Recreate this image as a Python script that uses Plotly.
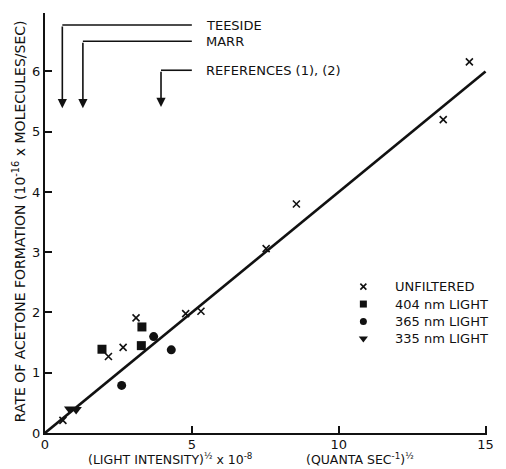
import plotly.graph_objects as go

# Unfiltered light
unf_x = [0.61, 2.16, 2.66, 3.10, 4.79, 5.31, 7.53, 8.56, 13.56, 14.45]
unf_y = [0.21, 1.27, 1.42, 1.91, 1.98, 2.02, 3.06, 3.80, 5.20, 6.16]
# 404 nm light
l404_x = [1.94, 3.28, 3.30]
l404_y = [1.39, 1.45, 1.76]
# 365 nm light
l365_x = [2.61, 3.70, 4.30]
l365_y = [0.79, 1.60, 1.38]
# 335 nm light
l335_x = [0.84, 1.06]
l335_y = [0.40, 0.39]

# fitted straight line through the origin
fit_x = [0, 15]
fit_y = [0, 6.0]

# literature intensities marked with arrows
ref_labels = ["TEESIDE", "MARR", "REFERENCES (1), (2)"]
ref_x = [0.59, 1.29, 3.95]
ref_top = [6.77, 6.50, 6.02]
ref_tip = [5.39, 5.39, 5.41]
ref_label_x = 5.0

legend_labels = ["UNFILTERED", "404 nm LIGHT", "365 nm LIGHT", "335 nm LIGHT"]
legend_y = [2.43, 2.14, 1.85, 1.57]
legend_sym_x = 10.84
legend_txt_x = 11.85

FONT = "DejaVu Sans"
INK = "#111111"

fig = go.Figure()

fig.add_trace(go.Scatter(x=fit_x, y=fit_y, mode="lines",
                         line=dict(color=INK, width=2.6), hoverinfo="skip"))

series = [
    (unf_x, unf_y, "x-thin-open", 7, dict(color=INK, width=1.6)),
    (l404_x, l404_y, "square", 9, dict(width=0)),
    (l365_x, l365_y, "circle", 9, dict(width=0)),
    (l335_x, l335_y, "triangle-down", 10, dict(width=0)),
]
for (xs, ys, sym, size, mline), lab, ly in zip(series, legend_labels, legend_y):
    fig.add_trace(go.Scatter(x=xs, y=ys, mode="markers", name=lab,
                             marker=dict(symbol=sym, size=size, color=INK, line=mline)))
    # legend key
    fig.add_trace(go.Scatter(x=[legend_sym_x], y=[ly], mode="markers",
                             marker=dict(symbol=sym, size=size - 2 if sym != "x-thin-open" else 6,
                                         color=INK, line=mline), hoverinfo="skip"))
    fig.add_annotation(x=legend_txt_x, y=ly, xref="x", yref="y", text=lab,
                       showarrow=False, xanchor="left", yanchor="middle",
                       font=dict(family=FONT, size=13, color=INK))

for lab, rx, top, tip in zip(ref_labels, ref_x, ref_top, ref_tip):
    fig.add_shape(type="line", x0=rx, x1=ref_label_x, y0=top, y1=top, xref="x", yref="y",
                  line=dict(color=INK, width=1.6))
    fig.add_annotation(x=rx, y=tip, ax=rx, ay=top, xref="x", yref="y", axref="x", ayref="y",
                       text="", showarrow=True, arrowhead=2, arrowsize=1.15, arrowwidth=1.6,
                       arrowcolor=INK)
    fig.add_annotation(x=ref_label_x + 0.42, y=top, xref="x", yref="y", text=lab,
                       showarrow=False, xanchor="left", yanchor="middle",
                       font=dict(family=FONT, size=13, color=INK))

# axis titles
fig.add_annotation(x=0.282, y=-0.083, xref="paper", yref="paper",
                   text="(LIGHT INTENSITY)<sup>½</sup> x 10<sup>-8</sup>",
                   showarrow=False, xanchor="center", yanchor="bottom", borderpad=0,
                   font=dict(family=FONT, size=12.5, color=INK))
fig.add_annotation(x=0.712, y=-0.083, xref="paper", yref="paper",
                   text="(QUANTA SEC<sup>-1</sup>)<sup>½</sup>",
                   showarrow=False, xanchor="center", yanchor="bottom", borderpad=0,
                   font=dict(family=FONT, size=12.5, color=INK))
fig.add_annotation(x=-0.058, y=0.505, xref="paper", yref="paper", textangle=-90,
                   text="RATE OF ACETONE FORMATION (10<sup>-16</sup> x MOLECULES/SEC)",
                   showarrow=False, xanchor="center", yanchor="middle",
                   font=dict(family=FONT, size=14, color=INK))

fig.update_layout(
    width=506, height=469,
    margin=dict(l=45, r=13, t=13, b=36),
    paper_bgcolor="white", plot_bgcolor="white",
    showlegend=False,
    font=dict(family=FONT, size=13, color=INK),
    xaxis=dict(range=[0, 15.05], tickvals=[0, 5, 10, 15], showgrid=False, zeroline=False,
               showline=True, linecolor=INK, linewidth=2, ticks="inside", ticklen=7,
               tickwidth=1.6, tickcolor=INK, tickfont=dict(size=13), ticklabelstandoff=-2),
    yaxis=dict(range=[0, 6.97], tickvals=[0, 1, 2, 3, 4, 5, 6], showgrid=False, zeroline=False,
               showline=True, linecolor=INK, linewidth=2, ticks="inside", ticklen=7,
               tickwidth=1.6, tickcolor=INK, tickfont=dict(size=13)),
)

fig.write_html("out.html")
